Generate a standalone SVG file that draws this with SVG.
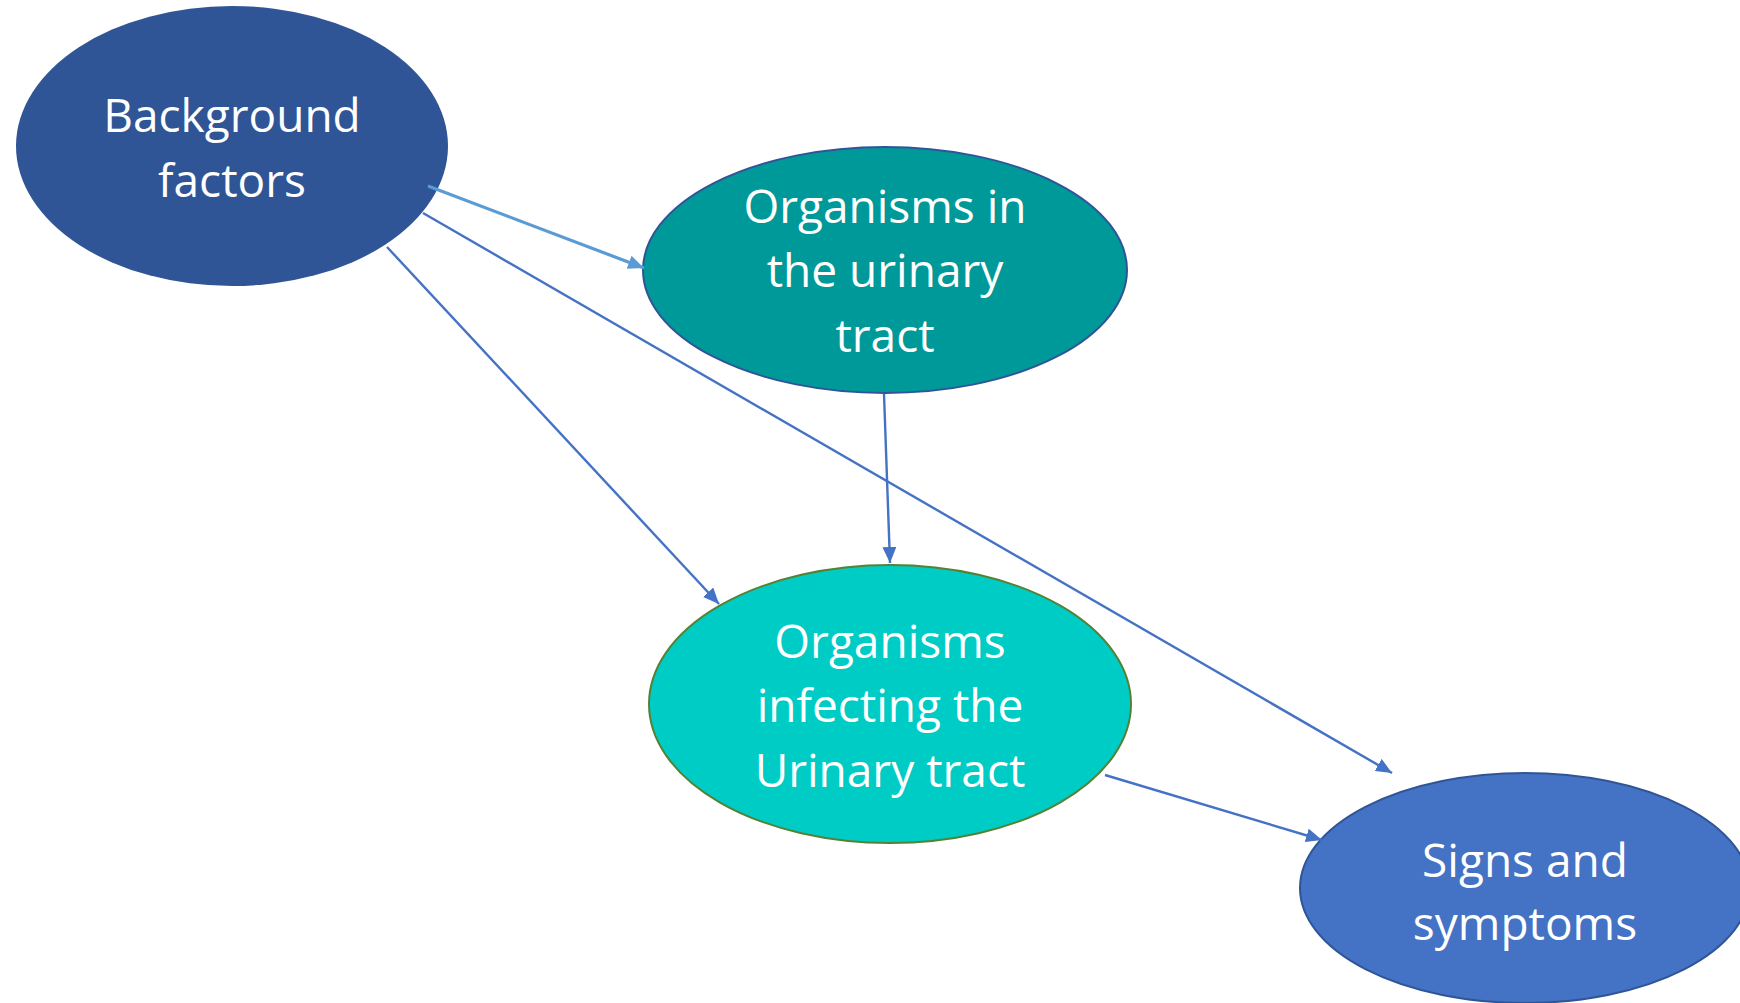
<svg xmlns="http://www.w3.org/2000/svg" width="1740" height="1003" viewBox="0 0 1740 1003">
  <style>
    .label { font-family: "Open Sans", "Liberation Sans", sans-serif; font-size: 46px; fill: #ffffff; text-anchor: middle; }
    .edge { fill: none; stroke: #4472C4; stroke-width: 2.4; marker-end: url(#arrow); }
    .edge-light { fill: none; stroke: #5B9BD5; stroke-width: 3.2; marker-end: url(#arrow-light); }
  </style>
  <defs>
    <marker id="arrow" markerUnits="userSpaceOnUse" markerWidth="16" markerHeight="14" refX="16" refY="7" orient="auto">
      <path d="M0,0 L16,7 L0,14 Z" fill="#4472C4"/>
    </marker>
    <marker id="arrow-light" markerUnits="userSpaceOnUse" markerWidth="16" markerHeight="14" refX="16" refY="7" orient="auto">
      <path d="M0,0 L16,7 L0,14 Z" fill="#5B9BD5"/>
    </marker>
  </defs>
  <rect width="1740" height="1003" fill="#ffffff"/>

  <g id="node-background">
    <ellipse cx="232" cy="146" rx="216" ry="140" fill="#2F5597"/>
    <text class="label" x="232" y="132">Background</text>
    <text class="label" x="232" y="197">factors</text>
  </g>

  <g id="node-organisms-in">
    <ellipse cx="885" cy="270" rx="242" ry="123" fill="#009999" stroke="#2F5597" stroke-width="2"/>
    <text class="label" x="885" y="223">Organisms in</text>
    <text class="label" x="885" y="287">the urinary</text>
    <text class="label" x="885" y="352">tract</text>
  </g>

  <g id="node-organisms-infecting">
    <ellipse cx="890" cy="704" rx="241" ry="139" fill="#00CCC6" stroke="#548235" stroke-width="2"/>
    <text class="label" x="890" y="658">Organisms</text>
    <text class="label" x="890" y="722">infecting the</text>
    <text class="label" x="890" y="787">Urinary tract</text>
  </g>

  <g id="node-signs">
    <ellipse cx="1525" cy="888" rx="225" ry="115" fill="#4472C4" stroke="#2F5597" stroke-width="2"/>
    <text class="label" x="1525" y="877">Signs and</text>
    <text class="label" x="1525" y="940">symptoms</text>
  </g>

  <g id="connectors">
    <line class="edge-light" x1="428" y1="186" x2="644" y2="268"/>
    <line class="edge" x1="423" y1="213" x2="1392" y2="773"/>
    <line class="edge" x1="387" y1="247" x2="719" y2="604"/>
    <line class="edge" x1="884" y1="394" x2="890" y2="563"/>
    <line class="edge" x1="1105" y1="775" x2="1322" y2="840"/>
  </g>
</svg>
